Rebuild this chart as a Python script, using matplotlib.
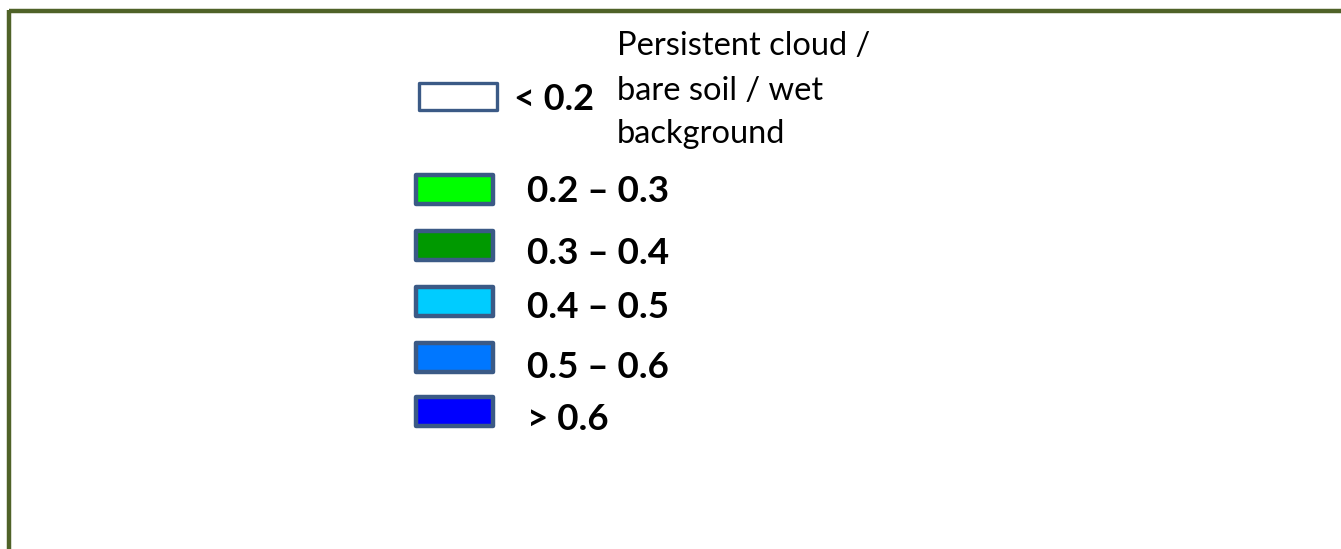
import matplotlib
matplotlib.use("Agg")
import matplotlib.pyplot as plt
from matplotlib.patches import Rectangle

# ---- data ----
class_labels = ["0.2 \u2013 0.3", "0.3 \u2013 0.4", "0.4 \u2013 0.5", "0.5 \u2013 0.6", "> 0.6"]
class_colors = ["#00ff00", "#009900", "#00ccff", "#0077ff", "#0000ff"]
low_label = "< 0.2"
low_note = ["Persistent cloud /", "bare soil / wet", "background"]

# ---- layout ----
W, H = 1341, 549
fig = plt.figure(figsize=(W / 100, H / 100), dpi=100)
ax = fig.add_axes([0, 0, 1, 1])
ax.set_xlim(0, W)
ax.set_ylim(H, 0)
ax.axis("off")

edge = "#3b5a86"
border = "#4f6228"
# frame (top and left only)
ax.plot([9, W], [11, 11], color=border, lw=3.2, solid_capstyle="butt")
ax.plot([9, 9], [9.5, H], color=border, lw=3.2, solid_capstyle="butt")

font = ["Lato", "DejaVu Sans"]

# low class
ax.add_patch(Rectangle((419, 83), 78, 27, facecolor="white", edgecolor=edge, lw=2.4,
                       joinstyle="round"))
ax.text(514, 99, low_label, fontsize=26, fontweight="bold", family=font, va="center", ha="left")
note_y = [46, 91, 134]
for line, y in zip(low_note, note_y):
    ax.text(617, y, line, fontsize=23.5, family=font, va="center", ha="left")

row_y = [190, 246, 302, 358, 412]
text_y = [191, 253, 308, 367, 419]
for i, (lab, col) in enumerate(zip(class_labels, class_colors)):
    y = row_y[i]
    ax.add_patch(Rectangle((416.5, y - 15), 77, 29, facecolor=col, edgecolor=edge, lw=3.2,
                           joinstyle="round"))
    ax.text(527, text_y[i], lab, fontsize=26.5, fontweight="bold", family=font, va="center", ha="left")

fig.savefig("out.png", dpi=100)
